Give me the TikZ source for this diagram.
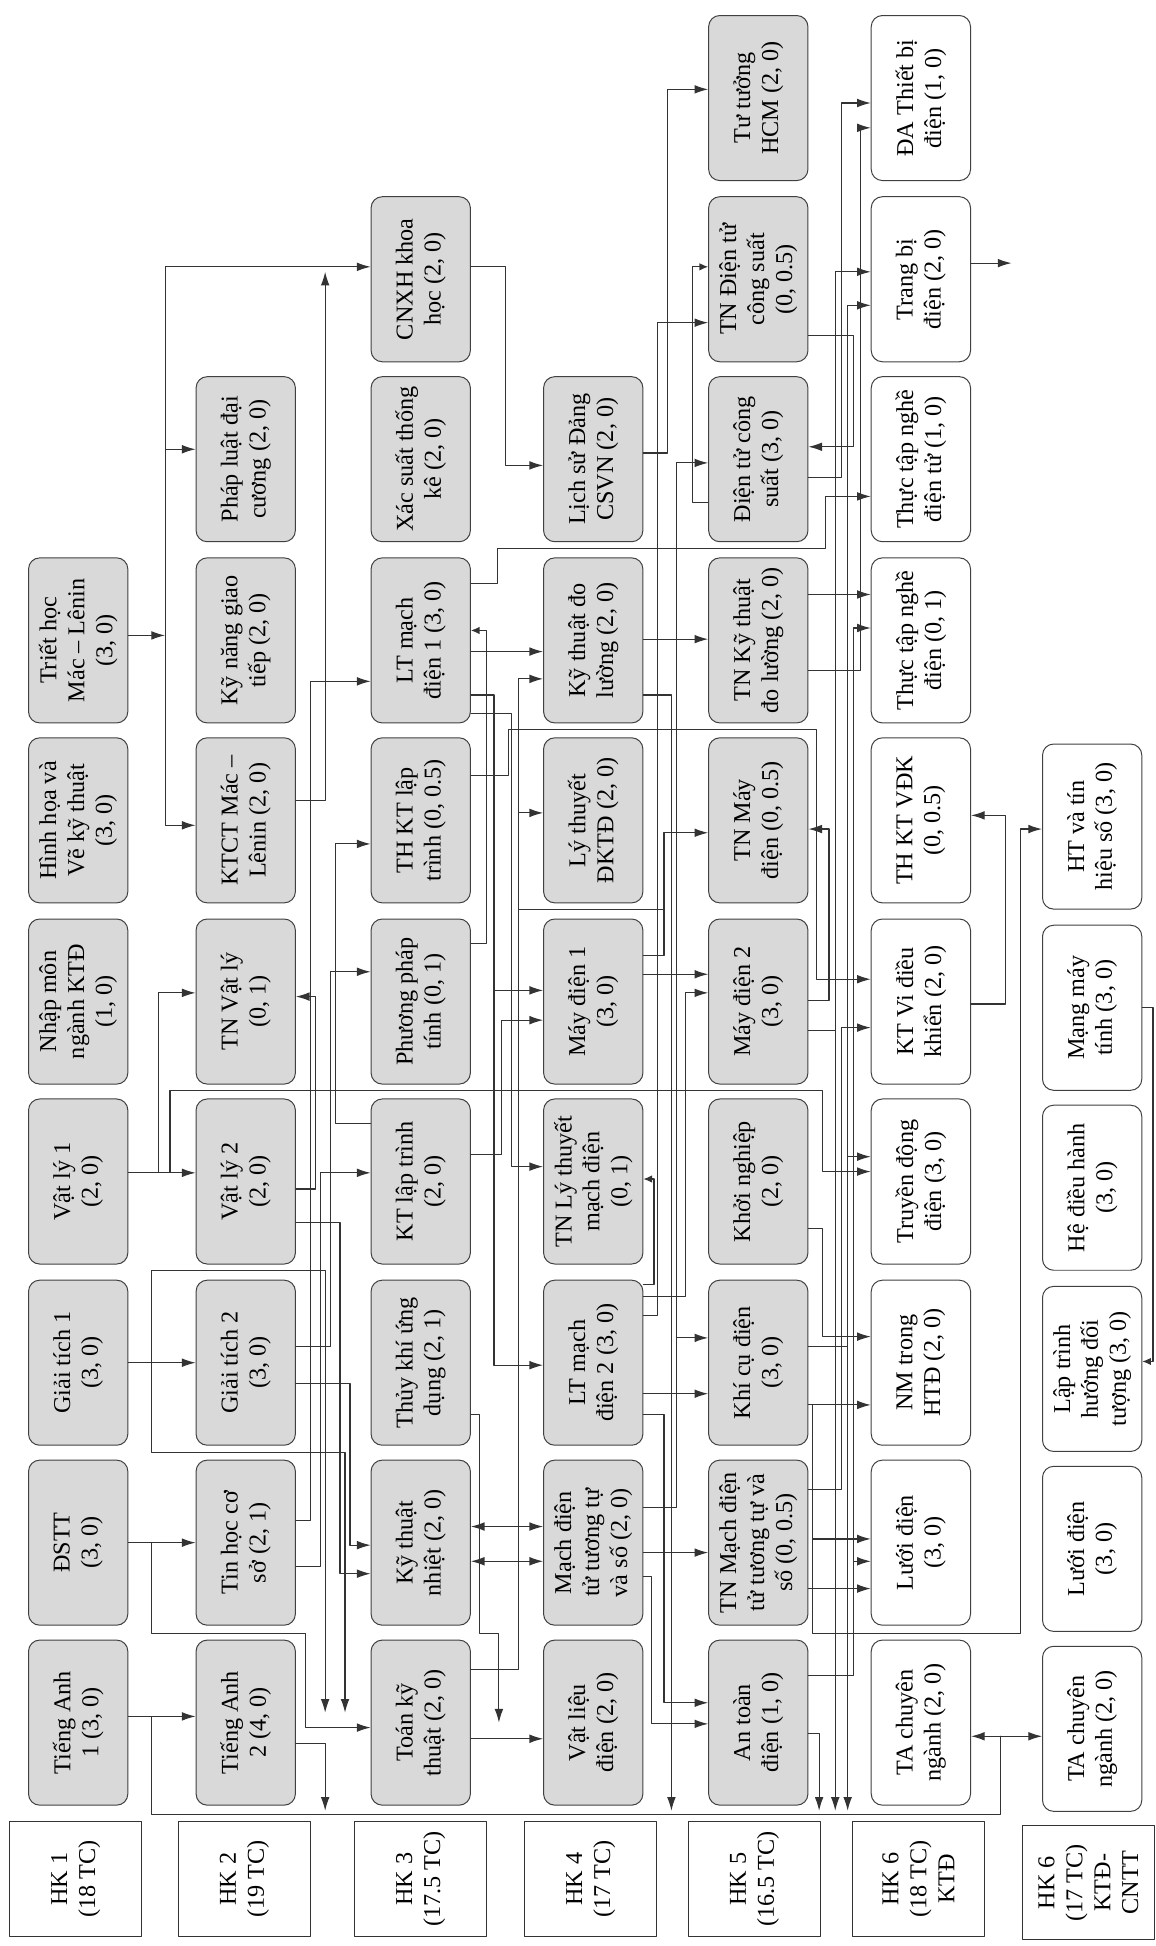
\documentclass[tikz,border=0pt]{standalone}
\usepackage{fontspec}
\setmainfont{Liberation Serif}
\usetikzlibrary{arrows.meta}
\tikzset{
  >={Latex[length=11pt, width=7pt]},
  every picture/.style={line cap=round, line join=round},
  % course boxes are turned a quarter turn, like the printed page
  course/.style={draw=black!75, line width=0.8pt, fill=gray!30, rounded corners=9pt, rotate=90,
    minimum width=133pt, minimum height=80pt, inner sep=1pt, align=center},
  elective/.style={course, fill=white},
  hklabel/.style={draw=black!80, line width=0.8pt, fill=white, rotate=90,
    minimum width=92pt, minimum height=106pt, align=center},
  wire/.style={line width=0.9pt, draw=black!80},
  arr/.style={wire, ->},
  arrs/.style={wire, <->},
  back/.style={wire, -{Latex[length=7pt, width=6pt]}},
}
\begin{document}
\begin{tikzpicture}[x=1pt, y=-1pt, font=\fontsize{19.5}{22.5}\selectfont]
  \useasboundingbox (0,0) rectangle (931,1568);
  % ---- HK 1
  \node[course] (ta1)   at (63,1388) {Tiếng Anh\\1 (3, 0)};
  \node[course] (dstt)  at (63,1243) {ĐSTT\\(3, 0)};
  \node[course] (gt1)   at (63,1098) {Giải tích 1\\(3, 0)};
  \node[course] (vl1)   at (63,952)  {Vật lý 1\\(2, 0)};
  \node[course] (nmkt)  at (63,807)  {Nhập môn\\ngành KTĐ\\(1, 0)};
  \node[course] (hhvkt) at (63,661)  {Hình họa và\\Vẽ kỹ thuật\\(3, 0)};
  \node[course] (triet) at (63,516)  {Triết học\\Mác – Lênin\\(3, 0)};
  % ---- HK 2
  \node[course] (ta2)  at (198,1388) {Tiếng Anh\\2 (4, 0)};
  \node[course] (thcs) at (198,1243) {Tin học cơ\\sở (2, 1)};
  \node[course] (gt2)  at (198,1098) {Giải tích 2\\(3, 0)};
  \node[course] (vl2)  at (198,952)  {Vật lý 2\\(2, 0)};
  \node[course] (tnvl) at (198,807)  {TN Vật lý\\(0, 1)};
  \node[course] (ktct) at (198,661)  {KTCT Mác –\\Lênin (2, 0)};
  \node[course] (kngt) at (198,516)  {Kỹ năng giao\\tiếp (2, 0)};
  \node[course] (pldc) at (198,370)  {Pháp luật đại\\cương (2, 0)};
  % ---- HK 3
  \node[course] (tkt)    at (339,1388) {Toán kỹ\\thuật (2, 0)};
  \node[course] (ktn)    at (339,1243) {Kỹ thuật\\nhiệt (2, 0)};
  \node[course] (tkud)   at (339,1098) {Thủy khí ứng\\dụng (2, 1)};
  \node[course] (ktlt)   at (339,952)  {KT lập trình\\(2, 0)};
  \node[course] (ppt)    at (339,807)  {Phương pháp\\tính (0, 1)};
  \node[course] (thktlt) at (339,661)  {TH KT lập\\trình (0, 0.5)};
  \node[course] (ltm1)   at (339,516)  {LT mạch\\điện 1 (3, 0)};
  \node[course] (xstk)   at (339,370)  {Xác suất thống\\kê (2, 0)};
  \node[course] (cnxh)   at (339,225)  {CNXH khoa\\học (2, 0)};
  % ---- HK 4
  \node[course] (vld)  at (478,1388) {Vật liệu\\điện (2, 0)};
  \node[course] (mdt)  at (478,1243) {Mạch điện\\tử tương tự\\và số (2, 0)};
  \node[course] (ltm2) at (478,1098) {LT mạch\\điện 2 (3, 0)};
  \node[course] (tnlt) at (478,952)  {TN Lý thuyết\\mạch điện\\(0, 1)};
  \node[course] (md1)  at (478,807)  {Máy điện 1\\(3, 0)};
  \node[course] (lydk) at (478,661)  {Lý thuyết\\ĐKTĐ (2, 0)};
  \node[course] (ktdl) at (478,516)  {Kỹ thuật đo\\lường (2, 0)};
  \node[course] (lsd)  at (478,370)  {Lịch sử Đảng\\CSVN (2, 0)};
  % ---- HK 5
  \node[course] (atd)    at (611,1388) {An toàn\\điện (1, 0)};
  \node[course] (tnmdt)  at (611,1243) {TN Mạch điện\\tử tương tự và\\số (0, 0.5)};
  \node[course] (kcd)    at (611,1098) {Khí cụ điện\\(3, 0)};
  \node[course] (kng)    at (611,952)  {Khởi nghiệp\\(2, 0)};
  \node[course] (md2)    at (611,807)  {Máy điện 2\\(3, 0)};
  \node[course] (tnmd)   at (611,661)  {TN Máy\\điện (0, 0.5)};
  \node[course] (tnktdl) at (611,516)  {TN Kỹ thuật\\đo lường (2, 0)};
  \node[course] (dtcs)   at (611,370)  {Điện tử công\\suất (3, 0)};
  \node[course] (tndtcs) at (611,225)  {TN Điện tử\\công suất\\(0, 0.5)};
  \node[course] (tthcm)  at (611,79)   {Tư tưởng\\HCM (2, 0)};
  % ---- HK 6 KTĐ
  \node[elective] (tacn)  at (742,1388) {TA chuyên\\ngành (2, 0)};
  \node[elective] (ld)    at (742,1243) {Lưới điện\\(3, 0)};
  \node[elective] (nmht)  at (742,1098) {NM trong\\HTĐ (2, 0)};
  \node[elective] (tdd)   at (742,952)  {Truyền động\\điện (3, 0)};
  \node[elective] (ktvdk) at (742,807)  {KT Vi điều\\khiển (2, 0)};
  \node[elective] (thvdk) at (742,661)  {TH KT VĐK\\(0, 0.5)};
  \node[elective] (ttnd)  at (742,516)  {Thực tập nghề\\điện (0, 1)};
  \node[elective] (ttndt) at (742,370)  {Thực tập nghề\\điện tử (1, 0)};
  \node[elective] (tbd)   at (742,225)  {Trang bị\\điện (2, 0)};
  \node[elective] (datb)  at (742,79)   {ĐA Thiết bị\\điện (1, 0)};
  % ---- HK 6 KTĐ-CNTT
  \node[elective] (tacn2) at (880,1393) {TA chuyên\\ngành (2, 0)};
  \node[elective] (ld2)   at (880,1248) {Lưới điện\\(3, 0)};
  \node[elective] (lthdt) at (880,1103) {Lập trình\\hướng đối\\tượng (3, 0)};
  \node[elective] (hdh)   at (880,957)  {Hệ điều hành\\(3, 0)};
  \node[elective] (mmt)   at (880,812)  {Mạng máy\\tính (3, 0)};
  \node[elective] (httn)  at (880,666)  {HT và tín\\hiệu số (3, 0)};
  % ---- semester labels
  \node[hklabel] (hk1)  at (61,1514)  {HK 1\\(18 TC)};
  \node[hklabel] (hk2)  at (197,1514) {HK 2\\(19 TC)};
  \node[hklabel] (hk3)  at (339,1514) {HK 3\\(17.5 TC)};
  \node[hklabel] (hk4)  at (476,1514) {HK 4\\(17 TC)};
  \node[hklabel] (hk5)  at (608,1514) {HK 5\\(16.5 TC)};
  \node[hklabel] (hk6)  at (740,1514) {HK 6\\(18 TC)\\KTĐ};
  \node[hklabel] (hk6b) at (877,1517) {HK 6\\(17 TC)\\KTĐ-\\CNTT};

  % ---- bottom bus
  \coordinate (busw) at (122,1462);
  \coordinate (buse) at (806,1462);
  \draw[wire] (ta1.south |- 0,1383) -| (busw) -- (buse) -- (806,1399);
  \draw[arrs] (tacn.south |- 0,1399) -- (tacn2.north |- 0,1399);

  % ---- HK 1 -> HK 2
  \draw[arr] (ta1.south |- 0,1383) -- (ta2.north |- 0,1383);
  \draw[arr] (ta2.south |- 0,1405) -| (262,1459);
  \draw[arr] (dstt.south |- 0,1243) -- (thcs.north |- 0,1243);
  \draw[arr] (dstt.south |- 0,1243) -| (122,1316) -| (246,1392) -- (tkt.north |- 0,1392);
  \draw[arr] (gt1.south |- 0,1098) -- (gt2.north |- 0,1098);
  \draw[arr] (gt1.south |- 0,1098) -| (122,1024) -| (262,1380);
  \draw[arr] (gt1.south |- 0,1098) -| (122,1170) -| (278,1380);
  \draw[arr] (vl1.south |- 0,945) -- (vl2.north |- 0,945);
  \draw[arr] (vl1.south |- 0,945) -| (128,800) -- (tnvl.north |- 0,800);
  \draw[arr] (vl1.south |- 0,945) -| (137,879) -| (663,944) -- (tdd.north |- 0,944);
  \draw[arr] (triet.south |- 0,512) -- (133,512);
  \draw[arr] (133,512) |- (pldc.north |- 0,362);
  \draw[arr] (133,512) |- (ktct.north |- 0,665);
  \draw[arr] (133,512) |- (cnxh.north |- 0,215);

  % ---- HK 2 -> HK 3
  \draw[arr] (ktct.south |- 0,645) -| (262,219);
  \draw[arr] (thcs.south |- 0,1225) -| (250,549) -- (ltm1.north |- 0,549);
  \draw[arr] (vl2.south |- 0,958) -| (254,803) -- (tnvl.south |- 0,803);
  \draw[arr] (thcs.south |- 0,1262) -| (258,945) -- (ktlt.north |- 0,945);
  \draw[arr] (gt2.south |- 0,1085) -| (266,783) -- (ppt.north |- 0,783);
  \draw[arr] (ktlt.north |- 0,905) -| (270,680) -- (thktlt.north |- 0,680);
  \draw[arr] (vl2.south |- 0,985) -| (274,1268) -- (ktn.north |- 0,1268);
  \draw[arr] (gt2.south |- 0,1115) -| (282,1245) -- (ktn.north |- 0,1245);

  % ---- HK 3 -> HK 4
  \draw[arr] (cnxh.south |- 0,215) -| (407,375) -- (lsd.north |- 0,375);
  \draw[arrs] (ktn.south |- 0,1230) -- (mdt.north |- 0,1230);
  \draw[arrs] (ktn.south |- 0,1258) -- (mdt.north |- 0,1258);
  \draw[arr] (tkt.south |- 0,1401) -- (vld.north |- 0,1401);
  \draw[arr] (tkud.south |- 0,1140) -| (386,1316) -| (402,1388);
  \draw[arr] (tkt.south |- 0,1345) -| (418,655) -- (lydk.north |- 0,655);
  \draw[arr] (418,655) |- (ktdl.north |- 0,547);
  \draw[wire] (418,733) -- (535,733);
  \draw[arr] (ltm1.south |- 0,525) -- (ktdl.north |- 0,525);
  \draw[arr] (ltm1.south |- 0,560) -| (398,1100) -- (ltm2.north |- 0,1100);
  \draw[arr] (398,798) -- (md1.north |- 0,798);
  \draw[arr] (ltm1.south |- 0,575) -| (412,940) -- (tnlt.north |- 0,940);
  \draw[arr] (ktlt.south |- 0,930) -| (404,822) -- (md1.north |- 0,822);
  \draw[back] (ppt.south |- 0,760) -| (392,508) -- (ltm1.south |- 0,508);
  \draw[arr] (ltm1.south |- 0,470) -| (401,442) -| (665,400) -- (ttndt.north |- 0,400);
  \draw[arr] (thktlt.south |- 0,625) -| (410,588) -| (658,789) -- (ktvdk.north |- 0,789);

  % ---- HK 4 -> HK 5
  \draw[arr] (lsd.south |- 0,365) -| (538,72) -- (tthcm.north |- 0,72);
  \draw[back] (dtcs.north |- 0,405) -| (558,215) -- (tndtcs.north |- 0,215);
  \draw[arr] (ltm2.south |- 0,1060) -| (530,260) -- (tndtcs.north |- 0,260);
  \draw[arr] (mdt.south |- 0,1215) -| (545,373) -- (dtcs.north |- 0,373);
  \draw[arr] (545,1078) -- (kcd.north |- 0,1078);
  \draw[arr] (ktdl.south |- 0,515) -- (tnktdl.north |- 0,515);
  \draw[arr] (md1.south |- 0,770) -| (535,671) -- (tnmd.north |- 0,671);
  \draw[arr] (md1.south |- 0,785) -- (md2.north |- 0,785);
  \draw[arr] (ltm2.south |- 0,1045) -| (552,800) -- (md2.north |- 0,800);
  \draw[arr] (ltm2.south |- 0,1123) -- (kcd.north |- 0,1123);
  \draw[arr] (mdt.south |- 0,1251) -- (tnmdt.north |- 0,1251);
  \draw[arr] (mdt.south |- 0,1270) -| (525,1389) -- (atd.north |- 0,1389);
  \draw[arr] (ltm2.south |- 0,1140) -| (535,1372) -- (atd.north |- 0,1372);
  \draw[back] (ltm2.south |- 0,1035) -| (527,950) -- (tnlt.south |- 0,950);
  \draw[arr] (ktdl.south |- 0,560) -| (541,1459);

  % ---- HK 5 -> HK 6
  \draw[arr] (dtcs.south |- 0,385) -| (678,83) -- (datb.north |- 0,83);
  \draw[arr] (tnktdl.south |- 0,540) -| (693,103) -- (datb.north |- 0,103);
  \draw[arr] (md2.south |- 0,830) -| (673,219) -- (tbd.north |- 0,219);
  \draw[arr] (kcd.south |- 0,1085) -| (683,246) -- (tbd.north |- 0,246);
  \draw[arr] (683,932) -- (tdd.north |- 0,932);
  \coordinate (tbout) at (815,212);
  \draw[arr] (tbd.south |- tbout) -- (tbout);
  \draw[arr] (tndtcs.south |- 0,270) -| (688,360) -- (dtcs.south |- 0,360);
  \draw[arr] (tnktdl.south |- 0,479) -- (ttnd.north |- 0,479);
  \draw[arr] (atd.south |- 0,1350) -| (688,506) -- (ttnd.north |- 0,506);
  \draw[arr] (688,1258) -- (ld.north |- 0,1258);
  \draw[arr] (md2.south |- 0,806) -| (668,668) -- (tnmd.south |- 0,668);
  \draw[arr] (tnmdt.south |- 0,1200) -| (678,828) -- (ktvdk.north |- 0,828);
  \draw[arr] (kng.south |- 0,990) -| (663,1077) -- (nmht.north |- 0,1077);
  \draw[arr] (kcd.south |- 0,1132) -- (nmht.north |- 0,1132);
  \draw[arr] (kcd.south |- 0,1132) -| (655,1240) -- (ld.north |- 0,1240);
  \draw[arr] (kcd.south |- 0,1132) -| (655,1316) -| (822,668) -- (httn.north |- 0,668);
  \draw[arr] (tnmdt.south |- 0,1280) -- (ld.north |- 0,1280);
  \draw[arr] (atd.south |- 0,1397) -| (660,1459);
  \draw[arr] (673,830) -- (673,1459);
  \draw[arr] (683,1085) -- (683,1459);

  % ---- HK 6 internal
  \draw[arr] (ktvdk.south |- 0,809) -| (810,657) -- (thvdk.south |- 0,657);
  \draw[back] (mmt.south |- 0,812) -| (929,1097) -- (lthdt.south |- 0,1097);
\end{tikzpicture}
\end{document}
